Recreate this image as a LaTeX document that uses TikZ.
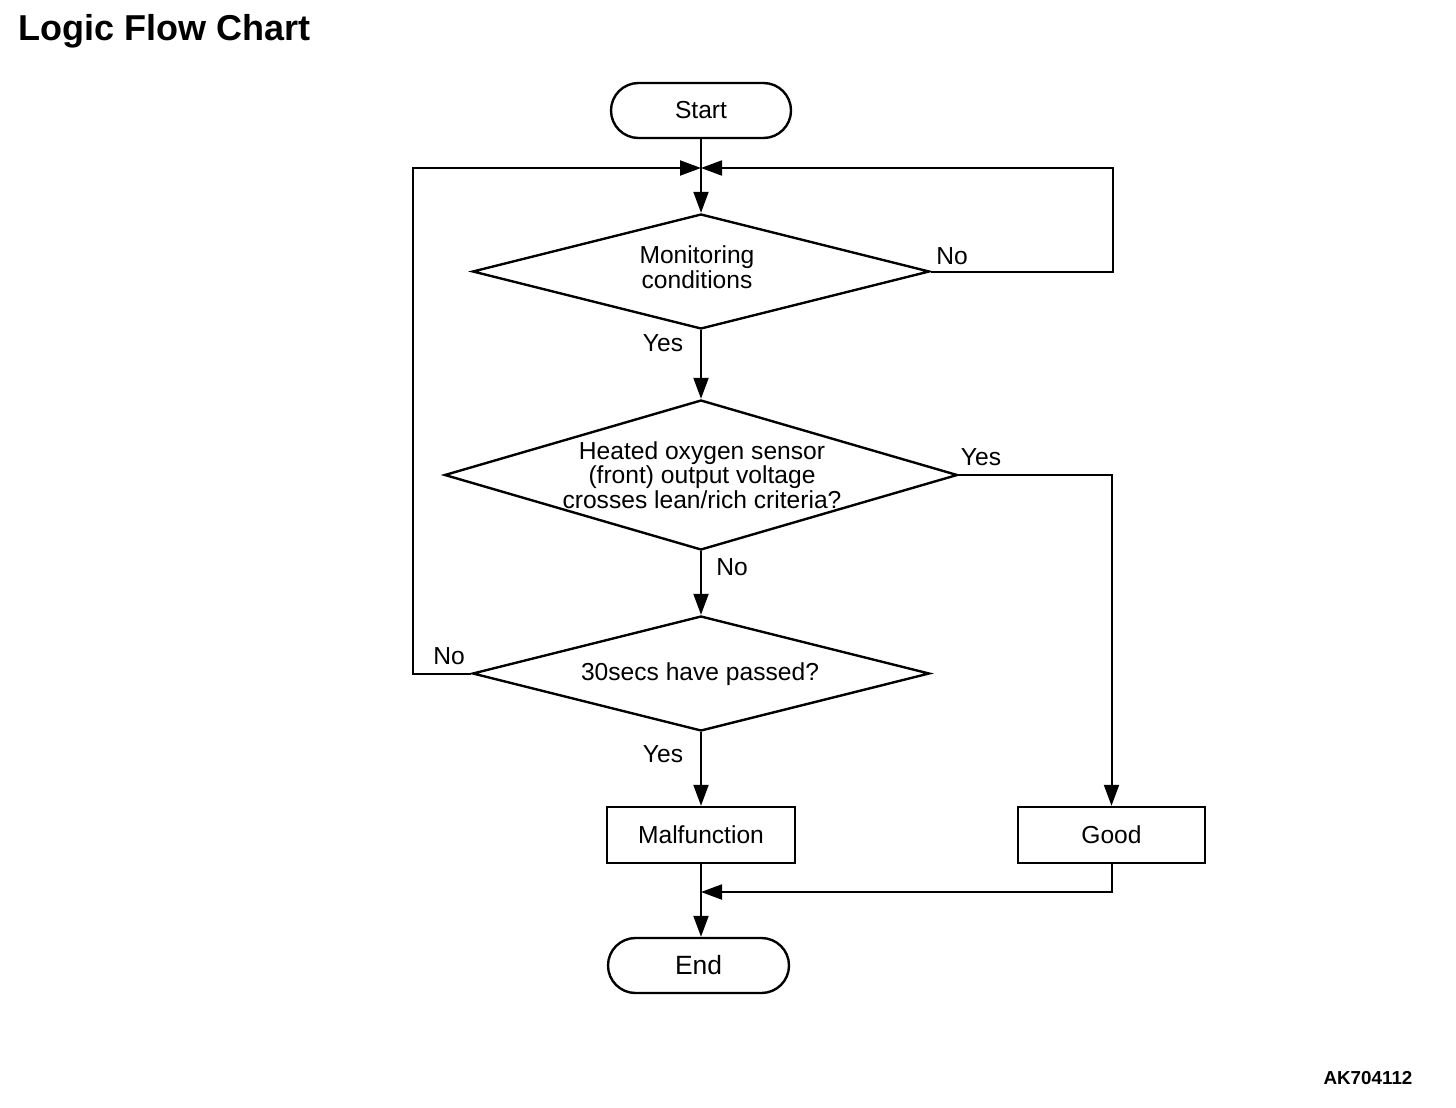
\documentclass[tikz,border=0pt]{standalone}
\usepackage{fontspec}
\setmainfont{Liberation Sans}
\usetikzlibrary{arrows.meta,shapes.geometric,shapes.misc}
\begin{document}
\begin{tikzpicture}[x=0.5pt,y=-0.5pt,
  every node/.style={font=\fontsize{12.3}{12.3}\selectfont},
  shapeline/.style={draw, line width=1.2pt},
  term/.style={shapeline, rounded rectangle, minimum height=27.5pt, inner sep=0},
  procbox/.style={shapeline, rectangle, minimum height=28pt, inner sep=0},
  decision/.style={shapeline, diamond, inner sep=0},
  conn/.style={line width=1pt},
  arr/.style={conn, -{Triangle[length=10.5pt,width=7.5pt]}},
  txt/.style={align=center, inner sep=0}
]
\useasboundingbox (0,0) rectangle (1456,1108);
\node[anchor=west, inner sep=0, font=\bfseries\fontsize{18}{20}\selectfont] (title) at (18,31) {Logic Flow Chart};
\node[inner sep=0, font=\bfseries\fontsize{9.4}{10}\selectfont] (code) at (1368,1078) {AK704112};

\node[term, minimum width=90pt] (start) at (701,110.5) {Start};
\coordinate (junc) at (701,168);

\node[decision, minimum width=228.5pt, minimum height=57.5pt] (d1) at (701,271.5) {};
\node[txt] (d1t) at (697,267) {Monitoring\\conditions};

\node[decision, minimum width=256.5pt, minimum height=75pt] (d2) at (701,475) {};
\node[txt] (d2t) at (702,475) {Heated oxygen sensor\\(front) output voltage\\crosses lean/rich criteria?};

\node[decision, minimum width=228.5pt, minimum height=57.5pt] (d3) at (701,673.5) {};
\node[txt] (d3t) at (700,674) {30secs have passed?};

\node[procbox, minimum width=94pt] (mal) at (701,835) {Malfunction};
\node[procbox, minimum width=93.5pt] (good) at (1111.5,835) {Good};
\node[term, minimum width=90.5pt, font=\fontsize{13.2}{13.2}\selectfont] (end) at (698.5,965.5) {End};
\coordinate (merge) at (701,892);

% connectors
\draw[conn] (start.south) -- (junc);
\draw[arr] (junc) -- (d1.north);
\draw[arr] (d1.east) -- ++(182,0) |- (junc);
\draw[arr] (d1.south) -- (d2.north);
\draw[arr] (d2.east) -| (good.north);
\draw[arr] (d2.south) -- (d3.north);
\draw[arr] (d3.west) -- ++(-58,0) |- (junc);
\draw[arr] (d3.south) -- (mal.north);
\draw[arr] (mal.south) -- (mal.south |- end.north);
\draw[arr] (good.south) |- (merge);

% branch labels
\node[inner sep=0] (l1no) at (952,256) {No};
\node[inner sep=0] (l1yes) at (663,343) {Yes};
\node[inner sep=0] (l2yes) at (981,457) {Yes};
\node[inner sep=0] (l2no) at (732,567) {No};
\node[inner sep=0] (l3no) at (449,656) {No};
\node[inner sep=0] (l3yes) at (663,754) {Yes};
\end{tikzpicture}
\end{document}
